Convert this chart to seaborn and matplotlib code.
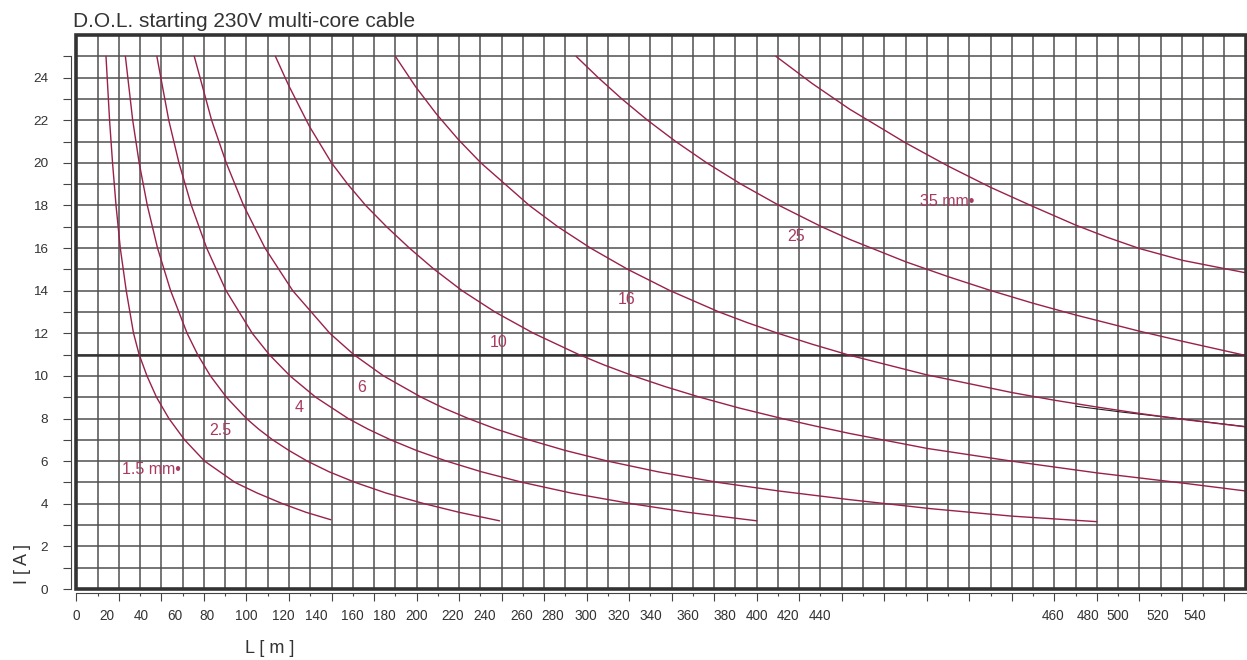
import numpy as np
import pandas as pd
import matplotlib
matplotlib.use("Agg")
import matplotlib.pyplot as plt
import seaborn as sns
from matplotlib.patches import Rectangle

# ---------------- data (L in metres, I in amperes) ----------------
sizes = ["1.5", "2.5", "4", "6", "10", "16", "25", "35"]

I_15 = [25, 22, 20, 18, 16, 14, 12, 11, 10, 9, 8, 7, 6, 5, 4.5, 4, 3.6, 3.25]
L_15 = [17.4, 19.5, 21.25, 23.3, 25.8, 29.3, 33.6, 36.9, 41.5, 47.1, 54.4, 63.6, 75.4, 93.3, 106.4, 121.3, 135.0, 149.6]

I_25 = [25, 22, 20, 18, 16, 14, 12, 11, 10, 9, 8, 7.5, 7, 6.5, 6, 5.5, 5, 4.5, 4, 3.6, 3.2]
L_25 = [28.8, 33.1, 36.9, 41.7, 47.7, 55.4, 65.1, 71.3, 78.8, 88.2, 100.0, 107.2, 115.4, 125.0, 135.8, 148.6,
        164.0, 182.2, 204.7, 225.0, 248.8]

I_4 = [25, 22, 20, 18, 16, 14, 12, 11, 10, 9, 8, 7.5, 7, 6.5, 6, 5.5, 5, 4.5, 4, 3.6, 3.2]
L_4 = [47.3, 54.3, 60.3, 67.6, 76.6, 88.0, 103.4, 113.4, 125.6, 140.7, 159.8, 171.5, 184.8, 200.0, 217.7, 238.2,
       262.5, 291.1, 326.6, 359.4, 400.0]

I_6 = [25, 22, 20, 18, 16, 14, 12, 11, 10, 9, 8.5, 8, 7.5, 7, 6.5, 6, 5.5, 5, 4.6, 4.2, 3.77, 3.42, 3.16]
L_6 = [69.3, 79.5, 88.1, 98.3, 110.9, 127.2, 149.0, 163.1, 180.6, 202.8, 215.7, 230.5, 247.0, 266.1, 287.5,
       312.5, 342.0, 377.5, 413.0, 453.9, 502.3, 550.0, 600.0]

I_10 = [25, 23.6, 21.7, 20, 19, 18, 17, 16, 15, 14, 13, 12, 11, 10.5, 10, 9.5, 9, 8.5, 8, 7.65, 7.3,
        6.6, 6.0, 5.45, 4.97, 4.6]
L_10 = [117.0, 125.0, 137.1, 150.0, 159.5, 170.1, 182.4, 195.8, 210.4, 226.8, 246.1, 268.8, 295.5, 310.7,
        327.5, 346.1, 366.6, 389.4, 414.9, 434.3, 454.6, 500.0, 550.0, 600.0, 650.6, 687.5]

I_16 = [25, 23.6, 22.3, 21.1, 20, 18, 17, 16, 15, 14, 13, 12.5, 12, 11.5, 10.97, 10.05, 9.22, 8.86, 8.54,
        8.24, 7.96, 7.61]
L_16 = [187.5, 199.2, 211.6, 224.5, 237.8, 266.3, 283.1, 302.3, 324.2, 349.1, 377.9, 394.5, 412.5, 432.1,
        454.6, 500.0, 550.0, 575.0, 600.0, 625.0, 650.6, 687.5]

I_25mm = [25, 24, 23, 22, 21, 20, 19, 18, 17, 16.41, 15.36, 14.66, 14.01, 13.41, 12.86, 12.1, 11.62, 10.96]
L_25mm = [293.8, 306.8, 320.7, 335.8, 352.4, 370.6, 390.8, 413.2, 438.2, 454.6, 487.5, 512.5, 537.5, 562.5,
          587.5, 625.0, 650.6, 687.5]

I_35 = [25, 23.73, 22.52, 20.94, 19.85, 18.85, 17.95, 17.08, 16.5, 15.98, 15.42, 14.84]
L_35 = [411.3, 432.5, 454.6, 487.5, 512.5, 537.5, 562.5, 587.5, 606.3, 625.0, 650.6, 687.5]

# stray black segment visible beside the 16 mm² curve
I_stray = [8.58, 8.30, 8.05, 7.62]
L_stray = [587.5, 615.0, 642.5, 687.5]

ref_current = 11

curve_labels = ["1.5 mm•", "2.5", "4", "6", "10", "16", "25", "35 mm•"]
label_L = [44.3, 84.8, 131.0, 168.0, 248.3, 323.8, 423.3, 512.0]
label_I = [5.63, 7.44, 8.5, 9.45, 11.56, 13.58, 16.54, 18.17]

xtick_labels = ["0", "20", "40", "60", "80", "100", "120", "140", "160", "180", "200",
                "220", "240", "260", "280", "300", "320", "340", "360", "380", "400",
                "420", "440", "460", "480", "500", "520", "540"]
xtick_label_pos = [0.2, 17.8, 38.4, 57.9, 76.5, 100.0, 121.4, 141.1, 162.5, 181.3, 199.9,
                   221.3, 240.0, 261.6, 280.0, 299.8, 318.8, 337.5, 359.3, 381.0, 399.9,
                   418.6, 437.4, 574.3, 594.8, 612.4, 635.9, 657.6]

# ---------------- build table ----------------
frames = []
for s, L, I in zip(sizes, [L_15, L_25, L_4, L_6, L_10, L_16, L_25mm, L_35],
                   [I_15, I_25, I_4, I_6, I_10, I_16, I_25mm, I_35]):
    frames.append(pd.DataFrame({"L": L, "I": I, "size": s}))
df = pd.concat(frames, ignore_index=True)

# ---------------- style ----------------
sns.set_theme(style="white")
plt.rcParams["font.family"] = ["Liberation Sans", "DejaVu Sans"]

curve_color = "#9a2147"
label_color = "#a83a5d"
grid_color = "#505050"
dark = "#333333"

fig = plt.figure(figsize=(12.47, 6.60), dpi=100)
ax = fig.add_axes([76.4 / 1247, 1 - 589 / 660, (1245.7 - 76.4) / 1247, (589 - 35) / 660])

sns.lineplot(x=L_stray, y=I_stray, color="#222222", lw=0.8, ax=ax, zorder=2.5)
sns.lineplot(data=df, x="L", y="I", hue="size", palette={s: curve_color for s in sizes},
             estimator=None, sort=False, legend=False, lw=1.0, ax=ax, zorder=3)

ax.axhline(ref_current, color=dark, lw=1.8, zorder=2)

ax.set_xlim(0, 687.5)
ax.set_ylim(0, 26)

# grid / ticks
ax.set_xticks(np.arange(0, 687.5, 25))
ax.set_xticks(np.arange(12.5, 687.5, 25), minor=True)
ax.set_yticks(np.arange(0, 25, 2))
ax.set_yticks(np.arange(1, 26, 2), minor=True)
ax.grid(which="both", color=grid_color, lw=1.1)
ax.set_axisbelow(True)

ax.tick_params(axis="x", which="both", bottom=True, labelbottom=False, color="#444444", width=0.8)
ax.tick_params(axis="x", which="major", length=6)
ax.tick_params(axis="x", which="minor", length=2.5)
ax.tick_params(axis="y", which="both", left=True, length=5.8, width=0.8, color="#444444",
               labelsize=9.7, labelcolor=dark, pad=10.4)

for side in ["top", "right"]:
    ax.spines[side].set_visible(False)
ax.spines["left"].set_position(("outward", 4))
ax.spines["left"].set_bounds(0, 25)
ax.spines["left"].set_linewidth(0.8)
ax.spines["left"].set_color("#444444")
ax.spines["bottom"].set_position(("outward", 2.7))
ax.spines["bottom"].set_linewidth(0.8)
ax.spines["bottom"].set_color("#444444")

# heavy frame around the chart field
ax.add_patch(Rectangle((0, 0), 1, 1, transform=ax.transAxes, fill=False, lw=2.6,
                       ec=dark, clip_on=False, zorder=5))

# x tick labels (placed as printed on the original)
sec = ax.secondary_xaxis("bottom")
sec.set_xticks(xtick_label_pos, labels=xtick_labels)
sec.tick_params(length=0, pad=14.5, labelsize=9.8, labelcolor=dark)
sec.spines["bottom"].set_visible(False)

# curve labels
for t, x, y in zip(curve_labels, label_L, label_I):
    ax.text(x, y, t, color=label_color, fontsize=11.5, ha="center", va="center", zorder=4)

ax.set_xlabel("L [ m ]", fontsize=13, color=dark)
ax.xaxis.set_label_coords((270 - 76.4) / 1169, (589 - 640) / 554)
ax.set_ylabel("I [ A ]", fontsize=13, color=dark)
ax.yaxis.set_label_coords((31 - 76.4) / 1169, (589 - 564) / 554)

ax.set_title("D.O.L. starting 230V multi-core cable", loc="left", fontsize=15, color=dark,
             x=-0.003, pad=5.5)

fig.savefig("out.png", dpi=100)
